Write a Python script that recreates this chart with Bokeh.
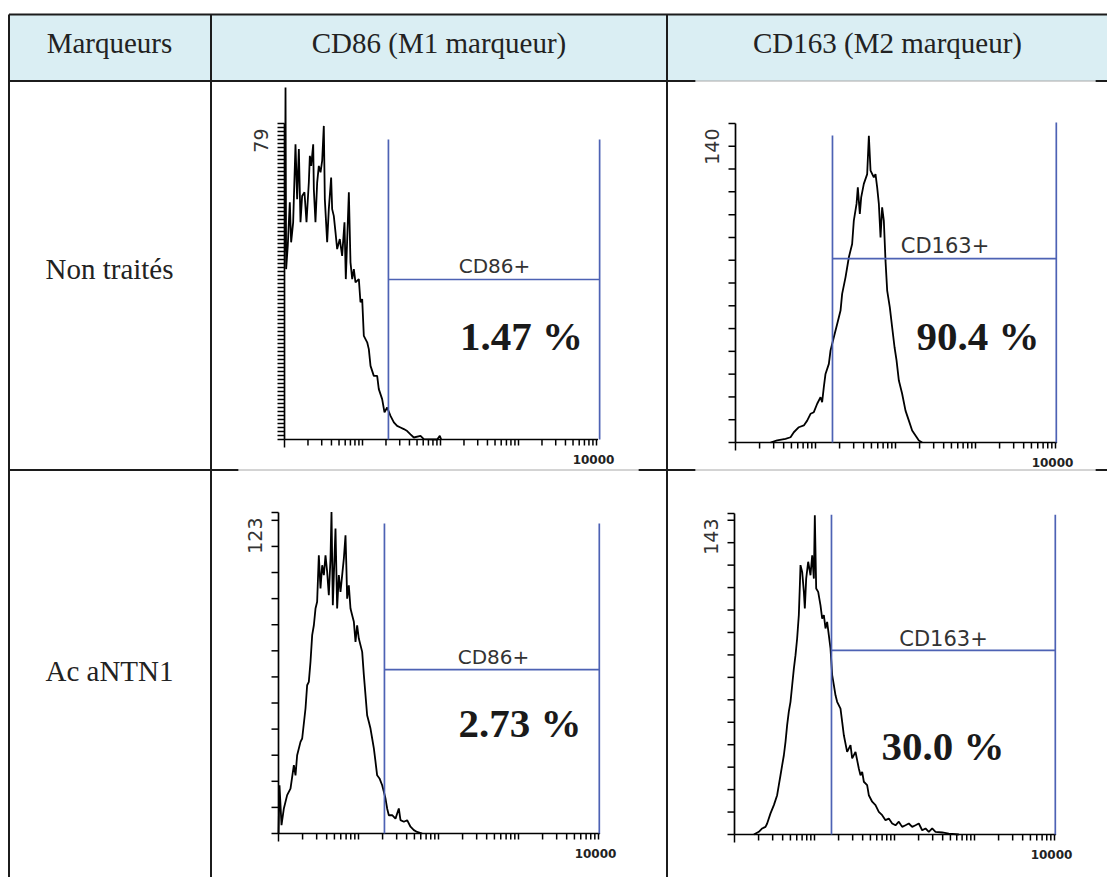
import math
from bokeh.plotting import figure
from bokeh.models import Range1d, LogScale
from bokeh.core.properties import value
from bokeh.embed import file_html
from bokeh.resources import INLINE

# ---------------- data ----------------
header_labels = ["Marqueurs", "CD86 (M1 marqueur)", "CD163 (M2 marqueur)"]
row_labels = ["Non traités", "Ac aNTN1"]
gate_names = ["CD86+", "CD163+", "CD86+", "CD163+"]
percent_labels = ["1.47 %", "90.4 %", "2.73 %", "30.0 %"]
y_max = [79, 140, 123, 143]          # max count shown on each y axis
y_tick_step = [1, 10, 10, 10]
x_max_label = "10000"
x_decades = [0, 1, 2, 3, 4]          # log10 of 1 ... 10000

# histograms: log10(fluorescence intensity) and event counts
cd86_nt_log10 = [0.005, 0.013, 0.021, 0.042, 0.068, 0.085, 0.111, 0.141, 0.162, 0.184,
                 0.205, 0.226, 0.256, 0.282, 0.312, 0.325, 0.342, 0.368, 0.376, 0.397,
                 0.419, 0.440, 0.462, 0.483, 0.504, 0.517, 0.547, 0.568, 0.598, 0.611,
                 0.632, 0.654, 0.675, 0.709, 0.739, 0.769, 0.786, 0.825, 0.846, 0.868,
                 0.889, 0.910, 0.953, 0.974, 0.996, 1.017, 1.060, 1.081, 1.103, 1.145,
                 1.188, 1.209, 1.252, 1.282, 1.316, 1.359, 1.402, 1.444, 1.487, 1.530,
                 1.573, 1.615, 1.658, 1.744, 1.786, 1.957, 1.991, 2.009]
cd86_nt_count = [47, 88, 42.6, 48.4, 59.3, 49.3, 54.3, 73.8, 60.1, 72.6,
                 54.3, 60.9, 61.8, 54.3, 64.3, 70.9, 68.4, 73.8, 62.6, 54.3,
                 64.3, 68.4, 66.8, 69.7, 78.4, 60.1, 49.3, 57.6, 65.5, 57.6,
                 55.9, 51.8, 47.6, 50.1, 45.9, 54.3, 40.1, 61.8, 44.3, 40.1,
                 42.6, 39.3, 40.1, 34.3, 35.1, 25.9, 24.3, 22.6, 18.4, 15.9,
                 15.9, 12.6, 10.1, 6.8, 8.0, 5.9, 4.3, 3.4, 3.0, 2.6,
                 2.1, 1.3, 0.5, 0.9, 0.1, 0.0, 0.9, 0.0]

cd163_nt_log10 = [0.438, 0.521, 0.625, 0.688, 0.729, 0.792, 0.854, 0.896, 0.938, 0.979,
                  1.021, 1.063, 1.083, 1.104, 1.125, 1.167, 1.188, 1.229, 1.271, 1.313,
                  1.333, 1.375, 1.417, 1.458, 1.479, 1.513, 1.529, 1.554, 1.571, 1.604,
                  1.646, 1.667, 1.688, 1.729, 1.750, 1.771, 1.792, 1.813, 1.833, 1.854,
                  1.875, 1.896, 1.929, 1.958, 1.988, 2.013, 2.042, 2.083, 2.125, 2.167,
                  2.208, 2.250, 2.292, 2.333]
cd163_nt_count = [0, 0.9, 1.6, 2.3, 4.5, 6.7, 7.5, 9.6, 12.6, 13.3,
                  17.0, 19.9, 17.7, 24.3, 30.1, 34.5, 40.4, 46.2, 52.0, 57.9,
                  65.2, 72.5, 81.3, 87.1, 97.4, 104.7, 112.0, 100.3, 107.6, 113.5,
                  117.8, 134.6, 119.3, 116.4, 117.8, 112.0, 104.7, 90.0, 103.2, 97.4,
                  79.8, 66.7, 59.3, 50.6, 41.8, 36.0, 27.2, 21.4, 14.0, 9.6,
                  5.3, 3.1, 0.9, 0]

cd86_ac_log10 = [0.0, 0.0125, 0.0375, 0.067, 0.108, 0.150, 0.192, 0.2125, 0.233, 0.275,
                 0.296, 0.3375, 0.358, 0.379, 0.400, 0.421, 0.442, 0.4625, 0.483, 0.504,
                 0.525, 0.546, 0.567, 0.5875, 0.608, 0.629, 0.650, 0.6625, 0.679, 0.692,
                 0.7125, 0.733, 0.754, 0.775, 0.796, 0.817, 0.8375, 0.850, 0.858, 0.879,
                 0.900, 0.921, 0.942, 0.9625, 0.983, 1.004, 1.046, 1.067, 1.0875, 1.108,
                 1.129, 1.150, 1.171, 1.192, 1.2125, 1.233, 1.2625, 1.296, 1.317, 1.3375,
                 1.358, 1.379, 1.421, 1.4625, 1.504, 1.525, 1.567, 1.608, 1.650, 1.692,
                 1.733, 1.796]
cd86_ac_count = [0, 18.5, 3.2, 9.6, 14.7, 17.2, 26.2, 22.3, 30.0, 35.1,
                 36.4, 47.9, 56.8, 58.1, 65.8, 76.0, 79.8, 86.2, 88.8, 106.6,
                 93.9, 102.8, 99.0, 106.6, 100.3, 91.3, 105.4, 123.2, 87.5, 99.0,
                 116.9, 86.2, 99.0, 92.6, 99.0, 105.4, 114.3, 100.3, 90.0, 95.1,
                 86.2, 83.6, 81.1, 73.4, 79.8, 74.7, 69.6, 60.7, 53.0, 45.3,
                 42.8, 40.2, 36.4, 32.6, 27.5, 22.3, 21.1, 18.5, 16.0, 13.4,
                 9.6, 7.0, 7.0, 5.7, 9.6, 5.1, 4.5, 5.1, 2.6, 1.3,
                 0.6, 0]

cd163_ac_log10 = [0.242, 0.304, 0.346, 0.3875, 0.408, 0.450, 0.492, 0.533, 0.554, 0.575,
                  0.596, 0.617, 0.6375, 0.658, 0.679, 0.700, 0.721, 0.742, 0.7625, 0.783,
                  0.804, 0.817, 0.825, 0.846, 0.867, 0.879, 0.896, 0.921, 0.950, 0.971,
                  0.992, 1.004, 1.021, 1.046, 1.075, 1.096, 1.117, 1.1375, 1.158, 1.179,
                  1.200, 1.221, 1.242, 1.2625, 1.283, 1.325, 1.346, 1.367, 1.408, 1.450,
                  1.471, 1.5125, 1.554, 1.575, 1.596, 1.617, 1.658, 1.679, 1.721, 1.7625,
                  1.804, 1.846, 1.8875, 1.929, 1.971, 2.0125, 2.054, 2.096, 2.1375, 2.179,
                  2.221, 2.2625, 2.304, 2.346, 2.3875, 2.429, 2.471, 2.5125, 2.596, 2.679,
                  2.804]
cd163_ac_count = [0, 1.2, 2.7, 3.4, 4.9, 9.4, 13.1, 17.5, 22.0, 26.4,
                  30.9, 35.3, 41.3, 48.7, 54.7, 59.1, 66.5, 73.9, 79.9, 87.3,
                  97.7, 111.0, 120.0, 117.0, 108.1, 100.7, 114.0, 121.5, 115.5, 124.4,
                  114.0, 142.2, 109.6, 108.1, 102.1, 96.2, 97.7, 91.8, 94.7, 88.8,
                  82.9, 71.0, 66.5, 62.0, 59.1, 56.1, 50.2, 44.2, 36.8, 39.8,
                  33.9, 36.8, 29.4, 26.4, 27.9, 23.5, 22.0, 17.5, 14.6, 13.1,
                  10.1, 8.6, 6.4, 7.1, 4.9, 4.1, 5.7, 3.4, 4.1, 4.9,
                  3.4, 4.1, 4.9, 1.9, 2.7, 1.2, 2.7, 1.2, 0.9, 0.4,
                  0]

hist_log10 = [cd86_nt_log10, cd163_nt_log10, cd86_ac_log10, cd163_ac_log10]
hist_count = [cd86_nt_count, cd163_nt_count, cd86_ac_count, cd163_ac_count]

# gate (marker) limits: intensity and count levels
gate_low = [21.5, 16.3, 21.1, 16.3]
gate_high = [10965, 10233, 10233, 10233]
gate_level = [40.0, 80.7, 62.8, 82.0]
gate_top_left = [75.0, 134.7, 118.8, 142.4]
gate_top_right = [75.0, 140.4, 118.8, 142.4]

# ---------------- layout (screen pixels) ----------------
M = 0
W, H = 1107, 877
RIGHT, BOTTOM = M + W, M + H
col_x = [8.5, 210.5, 666.5]
header_top, header_bottom, row_sep = 14, 80.5, 469.5
header_text_x = [109, 438.5, 887]
header_baseline = 42
row_text_x = 109
row_baseline = [268, 670]

panel_x0 = [284, 735, 278, 734]      # screen x of intensity 1
panel_dec = [78, 80, 80, 80]         # px per decade
panel_base = [439, 442, 833, 834]    # screen y of count 0
panel_top = [123, 123, 512, 513]     # screen y of y_max
gate_label_pos = [(494, 265), (944.5, 245), (493, 656), (943, 638)]
percent_pos = [(521, 335), (977.5, 335), (519.5, 722), (942.5, 745)]

INK = "#1c1c1c"
GATE = "#4d62b4"
SERIF = value("Liberation Serif")
SANS = value("DejaVu Sans")

p = figure(width=W, height=H, x_range=Range1d(M, RIGHT), y_range=Range1d(-BOTTOM, -M),
           output_backend="svg", toolbar_location=None, x_axis_type=None, y_axis_type=None,
           min_border=0)
p.outline_line_color = None
p.background_fill_color = "white"
p.border_fill_color = "white"

# ---------- table ----------
p.quad(left=[col_x[0]], right=[RIGHT], top=[-header_top], bottom=[-header_bottom],
       fill_color="#daeef3", line_color=None)
# horizontal rules (thick parts and parts overlapped by pasted images)
p.segment(x0=[col_x[0], col_x[0], 1095, col_x[0], 638, 1095],
          y0=[-header_top, -header_bottom, -header_bottom, -row_sep, -row_sep, -row_sep],
          x1=[RIGHT, 695, RIGHT, 238, 695, RIGHT],
          y1=[-header_top, -header_bottom, -header_bottom, -row_sep, -row_sep, -row_sep],
          line_color=INK, line_width=2)
p.segment(x0=[695, 238, 695], y0=[-header_bottom, -row_sep, -row_sep],
          x1=[1095, 638, 1095], y1=[-header_bottom, -row_sep, -row_sep],
          line_color="#a8a8a8", line_width=1)
p.segment(x0=col_x, y0=[-header_top] * 3, x1=col_x, y1=[-BOTTOM] * 3,
          line_color=INK, line_width=2)

p.text(x=header_text_x, y=[-header_baseline] * 3, text=header_labels,
       text_font=SERIF, text_font_size="29px", text_align="center",
       text_baseline="alphabetic", text_color="#222222")
p.text(x=[row_text_x] * 2, y=[-b for b in row_baseline], text=row_labels,
       text_font=SERIF, text_font_size="29px", text_align="center",
       text_baseline="alphabetic", text_color="#222222")

# ---------- histogram panels ----------
for i in range(4):
    x0, D, B, T, ym = panel_x0[i], panel_dec[i], panel_base[i], panel_top[i], y_max[i]
    s = (B - T) / ym
    xn, yn = f"x{i}", f"y{i}"
    p.extra_x_ranges[xn] = Range1d(10 ** ((M - x0) / D), 10 ** ((RIGHT - x0) / D))
    p.extra_x_scales[xn] = LogScale()
    p.extra_y_ranges[yn] = Range1d((B - BOTTOM) / s, (B - M) / s)
    kw = dict(x_range_name=xn, y_range_name=yn)

    # axes lines
    x_end = 10 ** (x_decades[-1] + 0.02)
    p.segment(x0=[1, 1], y0=[0, 0], x1=[1, x_end], y1=[ym, 0],
              line_color="black", line_width=1.7, **kw)
    # y ticks
    yt = list(range(0, ym + 1, y_tick_step[i]))
    if yt[-1] != ym:
        yt.append(ym)
    tick_left = 10 ** (-7 / D)
    p.segment(x0=[tick_left] * len(yt), y0=yt, x1=[1] * len(yt), y1=yt,
              line_color="black", line_width=1.5, **kw)
    # x ticks (log: 1..9 x 10^n)
    xt = [k * 10 ** n for n in x_decades[:-1] for k in range(1, 10)] + [10 ** x_decades[-1]]
    tl = [8 / s if v == 1 else 6 / s for v in xt]
    p.segment(x0=xt, y0=[0] * len(xt), x1=xt, y1=[-t for t in tl],
              line_color="black", line_width=1.5, **kw)

    # histogram trace
    p.line(x=[10 ** v for v in hist_log10[i]], y=hist_count[i],
           line_color="black", line_width=1.8, **kw)

    # gate marker
    p.segment(x0=[gate_low[i], gate_high[i], gate_low[i]],
              y0=[0, 0, gate_level[i]],
              x1=[gate_low[i], gate_high[i], gate_high[i]],
              y1=[gate_top_left[i], gate_top_right[i], gate_level[i]],
              line_color=GATE, line_width=1.7, **kw)

    # texts (screen coordinates)
    gx, gy = gate_label_pos[i]
    p.text(x=[gx], y=[-gy], text=[gate_names[i]], text_font=SANS,
           text_font_size="20px" if "86" in gate_names[i] else "21px",
           text_align="center", text_baseline="alphabetic", text_color="#333333")
    px_, py_ = percent_pos[i]
    p.text(x=[px_], y=[-py_], text=[percent_labels[i]], text_font=SERIF,
           text_font_size="41px", text_font_style="bold", text_align="center",
           text_baseline="alphabetic", text_color="#1a1a1a")
    p.text(x=[x0 - 24], y=[-(T + 5)], text=[str(ym)], angle=math.pi / 2,
           text_font=SANS, text_font_size="19px", text_align="right",
           text_baseline="middle", text_color="#333333")
    p.text(x=[x0 + D * x_decades[-1] - 3], y=[-(B + 19.5)], text=[x_max_label],
           text_font=SANS, text_font_size="12px", text_font_style="bold",
           text_align="center", text_baseline="middle", text_color="#222222")

open("out.html", "w").write(file_html(p, INLINE))
